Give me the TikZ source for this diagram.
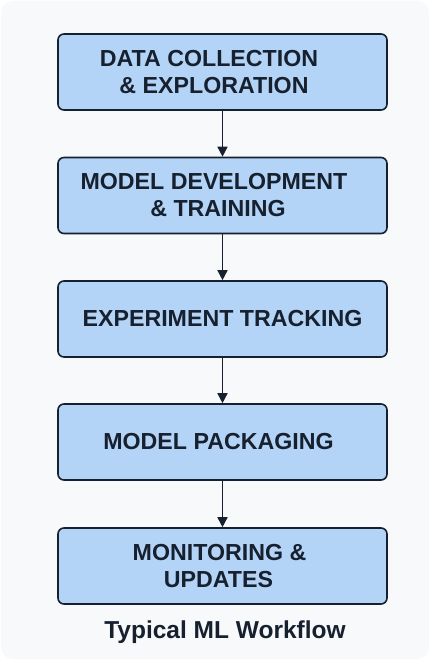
\documentclass[tikz,border=0pt]{standalone}
\usepackage{fontspec}
\setmainfont{Liberation Sans}
\usetikzlibrary{arrows.meta}
\definecolor{boxfill}{HTML}{B3D4F6}
\definecolor{ink}{HTML}{16202E}
\definecolor{cardbg}{HTML}{F8F9FB}
\begin{document}
\begin{tikzpicture}[x=1pt,y=-1pt,
  stepbox/.style={draw=ink, line width=1.6pt, fill=boxfill, rounded corners=6pt,
    minimum width=329pt, minimum height=76pt, align=center,
    font=\fontsize{23.2}{27}\selectfont\bfseries, text=ink, inner sep=0pt},
  flow/.style={draw=ink, line width=1.5pt, -{Triangle[length=10pt,width=10pt]}},
  caption/.style={font=\fontsize{24.5}{28}\selectfont\bfseries, text=ink}]
\useasboundingbox (0,0) rectangle (430,660);
\fill[white] (0,0) rectangle (430,660);
\fill[cardbg, rounded corners=12pt] (1,1) rectangle (429,659);
\node[stepbox] (b1) at (222.5,72) {DATA COLLECTION\hspace*{27pt}\\\& EXPLORATION\hspace*{17pt}};
\node[stepbox] (b2) at (222.5,195.5) {MODEL DEVELOPMENT\hspace*{17pt}\\\& TRAINING\hspace*{9pt}};
\node[stepbox] (b3) at (222.5,319) {EXPERIMENT TRACKING};
\node[stepbox] (b4) at (222.5,442) {MODEL PACKAGING\hspace*{8pt}};
\node[stepbox] (b5) at (222.5,566) {MONITORING \&\hspace*{6pt}\\UPDATES\hspace*{8pt}};
\node[caption] (cap) at (225,632) {Typical ML Workflow};
\draw[flow] (b1) -- (b2);
\draw[flow] (b2) -- (b3);
\draw[flow] (b3) -- (b4);
\draw[flow] (b4) -- (b5);
\end{tikzpicture}
\end{document}
